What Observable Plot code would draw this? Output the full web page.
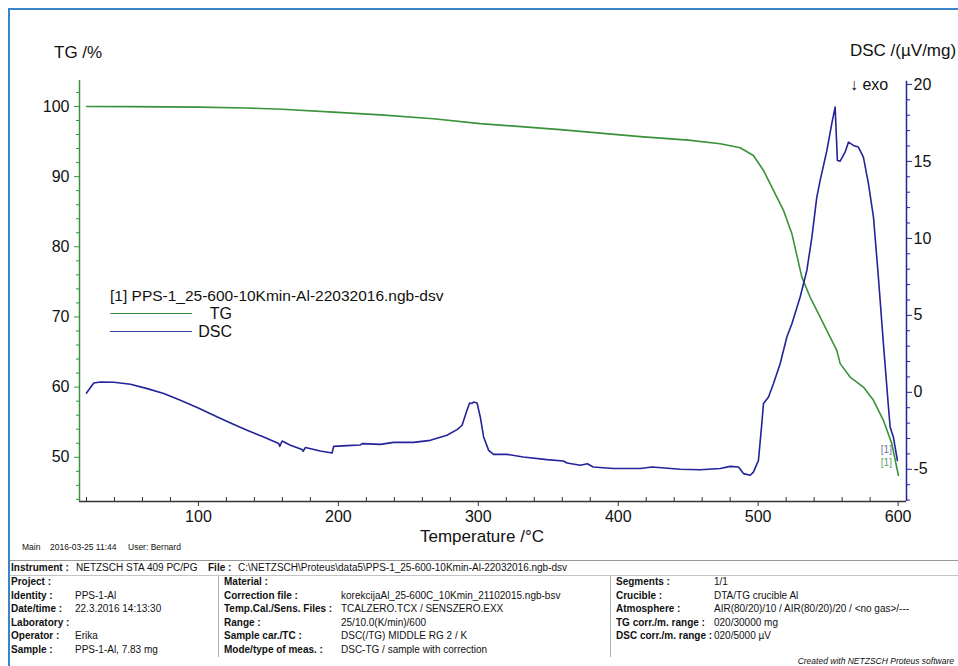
<!DOCTYPE html>
<html><head><meta charset="utf-8">
<script src="https://cdn.jsdelivr.net/npm/d3@7"></script>
<script src="https://cdn.jsdelivr.net/npm/@observablehq/plot@0.6"></script>
<style>
html,body{margin:0;padding:0;}
body{width:958px;height:666px;overflow:hidden;background:#fff;position:relative;font-family:"Liberation Sans",Arial,sans-serif;color:#111;}
#frame{position:absolute;left:8px;top:8px;width:970px;height:680px;border:2px solid #3a84cc;box-sizing:border-box;pointer-events:none;}
#chart{position:absolute;left:0;top:0;}
.t{position:absolute;white-space:nowrap;line-height:1;}
.hl{position:absolute;height:0;}
.vl{position:absolute;width:0;}
</style>
</head><body>
<div id="chart"></div>
<div id="overlay"></div>
<div id="frame"></div>
<script>
// ---- data ----
const tgT = [20, 50, 100, 134.3, 160, 196.4, 230, 267.9, 301.4, 358.6, 415.7, 450, 472.9, 487.1, 496.6, 503.8, 510.9, 518.1, 524.1, 531.2, 537.1, 544.3, 551.4, 556.2, 558.6, 565.7, 575.2, 582.4, 589.5, 595.5, 600.2];
const tgV = [100.0, 99.97, 99.9, 99.78, 99.6, 99.19, 98.8, 98.25, 97.56, 96.7, 95.7, 95.2, 94.69, 94.12, 93.02, 90.88, 88.03, 85.19, 81.87, 75.68, 72.84, 69.99, 67.14, 65.24, 63.35, 61.44, 60.01, 58.12, 55.27, 51.95, 47.44];

const dscT = [20.0, 25.2, 30.0, 39.5, 51.4, 63.4, 75.2, 87.1, 99.1, 110.9, 122.9, 134.8, 146.6, 157.4, 158.1, 159.8, 165.7, 174.1, 174.8, 176.4, 187.1, 195.5, 196.6, 206.2, 215.7, 217.1, 230.0, 239.5, 253.8, 265.7, 277.6, 284.8, 288.4, 291.9, 293.8, 295.5, 296.6, 299.1, 301.4, 303.8, 307.4, 310.9, 320.5, 332.1, 349.1, 360.7, 363.4, 372.9, 377.9, 382.1, 396.6, 415.7, 424.3, 444.3, 458.6, 472.9, 480.0, 485.9, 489.5, 494.3, 496.6, 500.2, 502.6, 503.8, 507.4, 510.9, 515.7, 520.5, 524.1, 530.0, 534.8, 538.4, 541.9, 544.3, 549.1, 552.6, 555.0, 556.6, 558.6, 562.1, 564.5, 568.1, 571.6, 575.2, 578.8, 582.4, 585.9, 589.5, 593.1, 594.3, 596.6, 599.5];
const dscV = [-0.05, 0.60, 0.67, 0.65, 0.52, 0.24, -0.08, -0.52, -0.99, -1.49, -1.99, -2.47, -2.90, -3.33, -3.51, -3.16, -3.44, -3.72, -3.83, -3.59, -3.81, -3.94, -3.51, -3.46, -3.42, -3.33, -3.38, -3.25, -3.25, -3.12, -2.79, -2.42, -2.14, -1.17, -0.69, -0.73, -0.63, -0.69, -1.60, -2.90, -3.77, -4.03, -4.03, -4.20, -4.37, -4.46, -4.59, -4.74, -4.64, -4.85, -4.95, -4.95, -4.85, -5.00, -5.03, -4.95, -4.81, -4.85, -5.28, -5.39, -5.18, -4.42, -2.03, -0.73, -0.31, 0.56, 1.86, 3.59, 4.46, 6.19, 7.92, 10.08, 12.68, 13.77, 15.71, 17.45, 18.53, 15.06, 15.02, 15.60, 16.25, 16.04, 15.93, 15.28, 13.55, 11.38, 7.49, 3.16, -0.95, -2.25, -2.90, -4.42];

const xTicks = [100, 200, 300, 400, 500, 600];
const xMinor = [20, 40, 60, 80, 120, 140, 160, 180, 220, 240, 260, 280, 320, 340, 360, 380, 420, 440, 460, 480, 520, 540, 560, 580];
const tgTicks = [50, 60, 70, 80, 90, 100];
const tgMinor = [44, 46, 48, 52, 54, 56, 58, 62, 64, 66, 68, 72, 74, 76, 78, 82, 84, 86, 88, 92, 94, 96, 98, 102];
const dscTicks = [-5, 0, 5, 10, 15, 20];
const dscMinor = [-7, -6, -4, -3, -2, -1, 1, 2, 3, 4, 6, 7, 8, 9, 11, 12, 13, 14, 16, 17, 18, 19];

const xDomain = [15, 606];
const yDomain = [43.7, 103.7];
const dscTop = 20.2;

// texts
const xLabel = "Temperature /°C";
const yLabelLeft = "TG /%";
const yLabelRight = "DSC /(µV/mg)";
const exoLabel = "↓ exo";
const legendTitle = "[1] PPS-1_25-600-10Kmin-Al-22032016.ngb-dsv";
const seriesNames = ["TG", "DSC"];
const footerMain = ["Main", "2016-03-25 11:44", "User: Bernard"];
const headerRow = ["Instrument :", "NETZSCH STA 409 PC/PG", "File :", "C:\\NETZSCH\\Proteus\\data5\\PPS-1_25-600-10Kmin-Al-22032016.ngb-dsv"];
const col1Labels = ["Project :", "Identity :", "Date/time :", "Laboratory :", "Operator :", "Sample :"];
const col1Values = ["", "PPS-1-Al", "22.3.2016 14:13:30", "", "Erika", "PPS-1-Al, 7.83 mg"];
const col2Labels = ["Material :", "Correction file :", "Temp.Cal./Sens. Files :", "Range :", "Sample car./TC :", "Mode/type of meas. :"];
const col2Values = ["", "korekcijaAl_25-600C_10Kmin_21102015.ngb-bsv", "TCALZERO.TCX / SENSZERO.EXX", "25/10.0(K/min)/600", "DSC(/TG) MIDDLE RG 2 / K", "DSC-TG / sample with correction"];
const col3Labels = ["Segments :", "Crucible :", "Atmosphere :", "TG corr./m. range :", "DSC corr./m. range :"];
const col3Values = ["1/1", "DTA/TG crucible Al", "AIR(80/20)/10 / AIR(80/20)/20 / <no gas>/---", "020/30000 mg", "020/5000 µV"];
const createdWith = "Created with NETZSCH Proteus software";

// ---- styles ----
const green = "#3a923a";
const blue = "#23239a";

// DSC values are drawn on the TG (left) scale through a linear link of the two axes
const toTG = d => 59.26 + 2.194 * d;
const fromTG = v => (v - 59.26) / 2.194;

const tgData = tgT.map((t, i) => ({t, v: tgV[i]}));
const dscData = dscT.map((t, i) => ({t, v: toTG(dscV[i])}));

const chart = Plot.plot({
  width: 958, height: 560,
  marginLeft: 79, marginRight: 52, marginTop: 80, marginBottom: 59,
  x: {domain: xDomain},
  y: {domain: yDomain},
  style: {fontFamily: "'Liberation Sans', Arial, sans-serif", fontSize: "16px", color: "#111", background: "transparent", overflow: "visible"},
  marks: [
    Plot.axisX(xTicks, {anchor: "bottom", tickSize: 5, tickPadding: 4, fontSize: 16, stroke: "#333", fill: "#111", label: null}),
    Plot.axisX(xMinor, {anchor: "bottom", tickSize: -4, fill: "none", stroke: "#333", label: null}),
    Plot.axisY(tgTicks, {anchor: "left", tickSize: 5, tickPadding: 5, fontSize: 16, stroke: green, fill: "#111", label: null}),
    Plot.axisY(tgMinor, {anchor: "left", tickSize: 3, fill: "none", stroke: green, label: null}),
    Plot.axisY(dscTicks.map(toTG), {anchor: "right", tickSize: 5, tickPadding: 2, fontSize: 16, stroke: blue, fill: "#111", label: null, tickFormat: v => String(Math.round(fromTG(v)))}),
    Plot.axisY(dscMinor.map(toTG), {anchor: "right", tickSize: 3, fill: "none", stroke: blue, label: null}),
    Plot.ruleY([yDomain[0]], {stroke: "#333", strokeWidth: 1.5}),
    Plot.ruleX([xDomain[0]], {stroke: green, strokeWidth: 1.5}),
    Plot.ruleX([xDomain[1]], {y1: yDomain[0], y2: toTG(dscTop), stroke: blue, strokeWidth: 1.5}),
    Plot.line(tgData, {x: "t", y: "v", stroke: green, strokeWidth: 1.6}),
    Plot.line(dscData, {x: "t", y: "v", stroke: blue, strokeWidth: 1.6}),
    Plot.text([dscData[dscData.length - 1]], {x: "t", y: "v", text: () => "[1]", dx: -11, dy: -11, fontSize: 10, fill: "#6a7895"}),
    Plot.text([tgData[tgData.length - 1]], {x: "t", y: "v", text: () => "[1]", dx: -12, dy: -12, fontSize: 10, fill: "#5e9e5e"})
  ]
});
document.getElementById("chart").appendChild(chart);

// ---- HTML labels, legend, info table ----
const ov = document.getElementById("overlay");
function txt(s, left, cy, size, extra = {}) {
  const d = document.createElement("div");
  d.className = "t";
  d.textContent = s;
  d.style.left = left + "px";
  d.style.top = (cy - size / 2) + "px";
  d.style.fontSize = size + "px";
  Object.assign(d.style, extra);
  ov.appendChild(d);
  return d;
}
function hline(x1, x2, y, color, w = 1) {
  const d = document.createElement("div");
  d.className = "hl";
  Object.assign(d.style, {left: x1 + "px", width: (x2 - x1) + "px", top: y + "px", borderTop: w + "px solid " + color});
  ov.appendChild(d);
}
function vline(x, y1, y2, color) {
  const d = document.createElement("div");
  d.className = "vl";
  Object.assign(d.style, {left: x + "px", top: y1 + "px", height: (y2 - y1) + "px", borderLeft: "1px solid " + color});
  ov.appendChild(d);
}

txt(yLabelLeft, 54, 52, 17);
txt(yLabelRight, 850, 50, 17);
txt(exoLabel, 850, 85, 16);
txt(xLabel, 420, 536, 17);

// legend
txt(legendTitle, 110, 296, 15.5);
hline(110, 192, 313, green);
hline(110, 192, 331, "#3a3aa0");
txt(seriesNames[0], 0, 314, 16, {left: "auto", right: (958 - 232) + "px"});
txt(seriesNames[1], 0, 332, 16, {left: "auto", right: (958 - 232) + "px"});

// footer line
txt(footerMain[0], 22, 547, 8.5);
txt(footerMain[1], 50, 547, 8.5);
txt(footerMain[2], 128, 547, 8.5);

// info table
hline(10, 958, 560, "#9a9a9a");
hline(10, 958, 575, "#c4c4c4");
vline(218, 576, 657, "#b0b0b0");
vline(610, 576, 657, "#b0b0b0");

txt(headerRow[0], 11, 568, 10, {fontWeight: "bold"});
txt(headerRow[1], 76, 568, 10);
txt(headerRow[2], 208, 568, 10, {fontWeight: "bold"});
txt(headerRow[3], 238, 568, 10);

const rowY = [582, 595.6, 609.2, 622.8, 636.4, 650];
col1Labels.forEach((s, i) => { txt(s, 11, rowY[i], 10, {fontWeight: "bold"}); if (col1Values[i]) txt(col1Values[i], 75, rowY[i], 10); });
col2Labels.forEach((s, i) => { txt(s, 224, rowY[i], 10, {fontWeight: "bold"}); if (col2Values[i]) txt(col2Values[i], 341, rowY[i], 10); });
col3Labels.forEach((s, i) => { txt(s, 616, rowY[i], 10, {fontWeight: "bold"}); if (col3Values[i]) txt(col3Values[i], 714, rowY[i], 10); });

txt(createdWith, 0, 661, 8.5, {fontStyle: "italic", left: "auto", right: "4px"});
</script>
</body></html>
